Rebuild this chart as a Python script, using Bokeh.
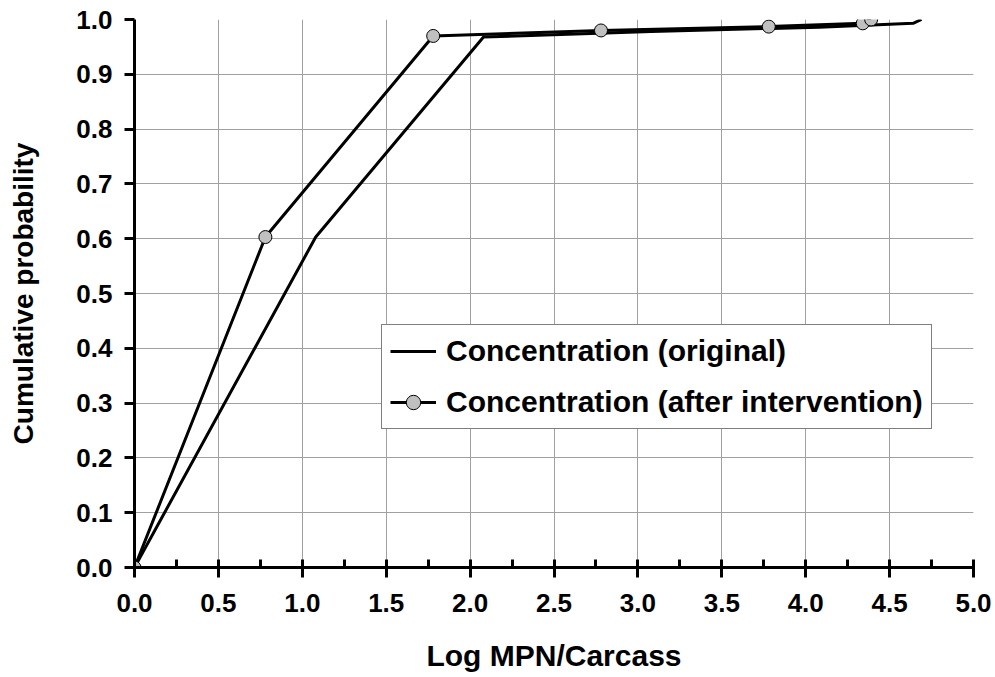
from bokeh.plotting import figure
from bokeh.models import FixedTicker, Range1d, Legend, LegendItem, NumeralTickFormatter
from bokeh.embed import file_html
from bokeh.resources import INLINE

# ---- data ----
x_ticks = [0.0, 0.5, 1.0, 1.5, 2.0, 2.5, 3.0, 3.5, 4.0, 4.5, 5.0]
x_minor = [0.25, 0.75, 1.25, 1.75, 2.25, 2.75, 3.25, 3.75, 4.25, 4.75]
y_ticks = [0.0, 0.1, 0.2, 0.3, 0.4, 0.5, 0.6, 0.7, 0.8, 0.9, 1.0]

x_original = [0.0, 1.08, 2.08, 3.08, 4.08, 4.64, 4.69]
y_original = [0.0, 0.603, 0.968, 0.978, 0.986, 0.993, 1.0]

x_after = [0.0, 0.78, 1.78, 2.78, 3.78, 4.34, 4.39]
y_after = [0.0, 0.603, 0.970, 0.980, 0.987, 0.993, 1.0]

label_original = "Concentration (original)"
label_after = "Concentration (after intervention)"
x_title = "Log MPN/Carcass"
y_title = "Cumulative probability"

FONT = "Liberation Sans"

p = figure(width=995, height=677, output_backend="svg", toolbar_location=None,
           x_range=Range1d(0, 5), y_range=Range1d(0, 1),
           min_border_left=134, min_border_right=22, min_border_top=19,
           min_border_bottom=110)
p.outline_line_color = None
p.background_fill_color = "white"
p.border_fill_color = "white"

# grids
p.xgrid.ticker = FixedTicker(ticks=x_ticks)
p.ygrid.ticker = FixedTicker(ticks=y_ticks)
for g in (p.xgrid, p.ygrid):
    g.grid_line_color = "#a0a0a0"
    g.grid_line_width = 1

# axes
p.xaxis.ticker = FixedTicker(ticks=x_ticks, minor_ticks=x_minor)
p.yaxis.ticker = FixedTicker(ticks=y_ticks)
for ax in (p.xaxis, p.yaxis):
    ax.formatter = NumeralTickFormatter(format="0.0")
    ax.axis_line_color = "black"
    ax.axis_line_width = 3
    ax.major_tick_line_color = "black"
    ax.major_tick_line_width = 3
    ax.major_label_text_font = FONT
    ax.major_label_text_font_style = "bold"
    ax.major_label_text_font_size = "26px"
    ax.major_label_text_color = "black"
    ax.axis_label_text_font = FONT
    ax.axis_label_text_font_style = "bold"
    ax.axis_label_text_color = "black"

p.xaxis.axis_label_text_font_size = "30px"
p.yaxis.axis_label_text_font_size = "28px"

p.xaxis.major_tick_in = 8
p.xaxis.major_tick_out = 10
p.xaxis.minor_tick_in = 8
p.xaxis.minor_tick_out = 0
p.xaxis.minor_tick_line_color = "black"
p.xaxis.minor_tick_line_width = 3
p.xaxis.major_label_standoff = 16
p.xaxis.axis_label = x_title
p.xaxis.axis_label_standoff = 24

p.yaxis.major_tick_in = 0
p.yaxis.major_tick_out = 10
p.yaxis.minor_tick_line_color = None
p.yaxis.major_label_standoff = 12
p.yaxis.axis_label = y_title
p.yaxis.axis_label_standoff = 34

# series
r_orig = p.line(x_original, y_original, line_width=3, line_color="black")
r_after = p.line(x_after, y_after, line_width=3, line_color="black")
r_pts = p.scatter(x_after, y_after, size=13, fill_color="#c0c0c0",
                  line_color="black", line_width=1)

legend = Legend(items=[LegendItem(label=label_original, renderers=[r_orig]),
                       LegendItem(label=label_after, renderers=[r_after, r_pts])],
                location=(247, 138))
legend.label_text_font = FONT
legend.label_text_font_style = "bold"
legend.label_text_font_size = "30px"
legend.label_text_color = "black"
legend.border_line_color = "black"
legend.border_line_width = 1
legend.background_fill_color = "white"
legend.background_fill_alpha = 1
legend.padding = 8
legend.spacing = 15
legend.margin = 0
legend.glyph_width = 46
legend.glyph_height = 36
legend.label_height = 36
legend.label_standoff = 10
p.add_layout(legend)

open("out.html", "w").write(file_html(p, INLINE))
